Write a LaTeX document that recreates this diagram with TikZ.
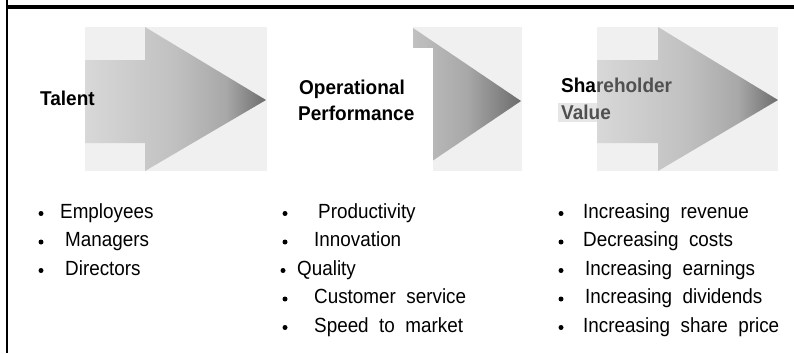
\documentclass[tikz,border=0pt]{standalone}
\usepackage{fontspec}
\setmainfont{Liberation Sans}
\newfontfamily\listfont{Liberation Sans}[WordSpace=2, FakeStretch=0.92]
\newfontfamily\headfont{Liberation Sans}[FakeStretch=0.95]
\definecolor{bgpale}{HTML}{F0F0F0}
\definecolor{shA}{HTML}{D8D8D8}
\definecolor{shB}{HTML}{C0C0C0}
\definecolor{shC}{HTML}{A8A8A8}
\definecolor{shD}{HTML}{6C6C6C}
\definecolor{txtgray}{HTML}{505050}
\definecolor{patch}{HTML}{E6E6E6}
\pgfdeclarehorizontalshading{arrowshade}{100bp}{color(0bp)=(shA); color(25bp)=(shA); color(50bp)=(shB); color(64bp)=(shC); color(75bp)=(shD); color(100bp)=(shD)}
\pgfdeclarehorizontalshading{headshade}{100bp}{color(0bp)=(shB); color(25bp)=(shB); color(50bp)=(shC); color(75bp)=(shD); color(100bp)=(shD)}
\tikzset{
  hd/.style={anchor=base west, inner sep=0pt, font=\headfont\fontsize{20}{24}\selectfont\bfseries},
  lst/.style={anchor=base west, inner sep=0pt, font=\listfont\fontsize{20.5}{24}\selectfont},
  dot/.style={circle, fill=black, inner sep=0pt, minimum size=5pt},
  bgbox/.style={fill=bgpale, draw=none},
  arrowfill/.style={shading=arrowshade, draw=none},
  headfill/.style={shading=headshade, draw=none},
}
\begin{document}
\begin{tikzpicture}[x=1pt,y=-1pt]
\useasboundingbox (0,0) rectangle (794,353);
% frame
\draw[line width=2.5pt] (7,0) -- (7,353);
\draw[line width=4pt] (5.75,7) -- (794,7);
% arrow 1
\fill[bgbox] (85,27) rectangle (267,171);
\path[arrowfill] (85,60) -- (145,60) -- (145,27) -- (266,100) -- (145,171) -- (145,143) -- (85,143) -- cycle;
% arrow 2 (partly hidden)
\fill[bgbox] (413,27) rectangle (522,171);
\path[headfill] (413,28) -- (521,101) -- (413,174) -- cycle;
\fill[white] (405,48) rectangle (433,176);
% arrow 3
\fill[bgbox] (597,27) rectangle (778,171);
\path[arrowfill] (597,60) -- (658,60) -- (658,27) -- (778,100) -- (658,171) -- (658,143) -- (597,143) -- cycle;
\fill[patch] (558,103) rectangle (597,122);
% headings
\node[hd] (talent) at (40,105) {Talent};
\node[hd] (op1) at (299,94) {Operational};
\node[hd] (op2) at (298,120) {Performance};
\node[hd] (sh1) at (561,92) {Sha\textcolor{txtgray}{reholder}};
\node[hd, text=txtgray] (sh2) at (561,119) {Value};
% column 1
\node[dot] (d11) at (41,213.5) {};
\node[dot] (d12) at (41,242) {};
\node[dot] (d13) at (41,270.5) {};
\node[lst] (t11) at (60,218) {Employees};
\node[lst] (t12) at (65,246.5) {Managers};
\node[lst] (t13) at (65,275) {Directors};
% column 2
\node[dot] (d21) at (285,213.5) {};
\node[dot] (d22) at (285,242) {};
\node[dot] (d23) at (283,270.5) {};
\node[dot] (d24) at (285,299) {};
\node[dot] (d25) at (285,327.5) {};
\node[lst] (t21) at (318,218) {Productivity};
\node[lst] (t22) at (314,246.5) {Innovation};
\node[lst] (t23) at (297,275) {Quality};
\node[lst] (t24) at (314,303.5) {Customer service};
\node[lst] (t25) at (314,332) {Speed to market};
% column 3
\node[dot] (d31) at (561,213.5) {};
\node[dot] (d32) at (561,242) {};
\node[dot] (d33) at (561,270.5) {};
\node[dot] (d34) at (561,299) {};
\node[dot] (d35) at (561,327.5) {};
\node[lst] (t31) at (583,218) {Increasing revenue};
\node[lst] (t32) at (583,246.5) {Decreasing costs};
\node[lst] (t33) at (585,275) {Increasing earnings};
\node[lst] (t34) at (585,303.5) {Increasing dividends};
\node[lst] (t35) at (583,332) {Increasing share price};
\end{tikzpicture}
\end{document}
